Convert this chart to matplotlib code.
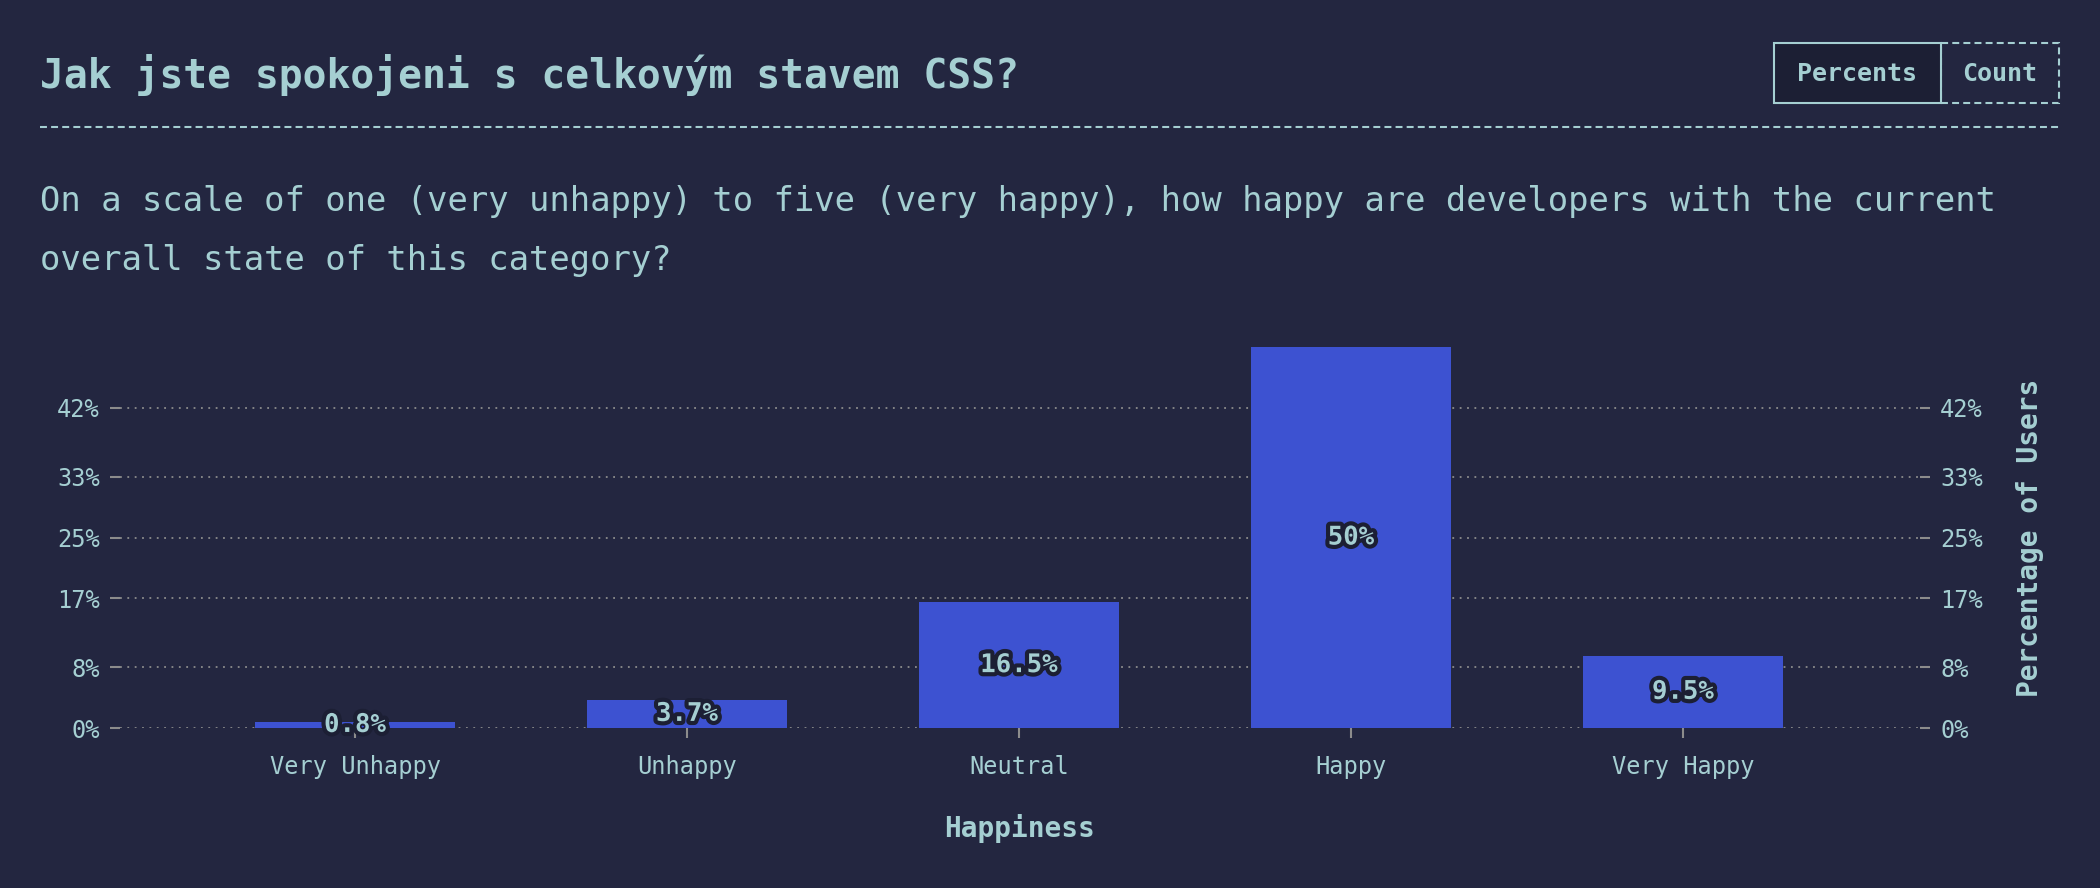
import matplotlib
matplotlib.use("Agg")
import matplotlib.pyplot as plt
import matplotlib.patheffects as pe
from matplotlib.patches import Rectangle
from matplotlib.lines import Line2D

plt.rcParams['font.family'] = ['DejaVu Sans Mono', 'DejaVu Sans']
plt.rcParams['lines.scale_dashes'] = False

## données
categories = ["Very Unhappy", "Unhappy", "Neutral", "Happy", "Very Happy"]
pourcentages = [0.8, 3.7, 16.5, 50, 9.5]
yticks = [0, 8, 17, 25, 33, 42]
ytick_labels = ["0%", "8%", "17%", "25%", "33%", "42%"]

titre = "Jak jste spokojeni s celkovým stavem CSS?"
sous_titre = ["On a scale of one (very unhappy) to five (very happy), how happy are developers with the current",
              "overall state of this category?"]

## couleurs
fond = "#232640"
fond_bouton = "#1c1f34"
texte = "#a5cfd2"
barre = "#3d52d1"
gris = "#8c8c8c"

W, H = 2100, 888
def fx(x):
    return x / W
def fy(y):
    return 1 - y / H

fig = plt.figure(figsize=(W / 100, H / 100), dpi=100, facecolor=fond)

#titre + séparateur
fig.text(fx(40), fy(88), titre, fontsize=28.5, fontweight="bold", color=texte, va="baseline", ha="left")
fig.add_artist(Line2D([fx(40), fx(2060)], [fy(127), fy(127)], color=texte, lw=1.5,
                      linestyle=(0, (5, 3))))

#sous-titre
fig.text(fx(40), fy(211), sous_titre[0], fontsize=24.4, color=texte, va="baseline", ha="left")
fig.text(fx(40), fy(270), sous_titre[1], fontsize=24.4, color=texte, va="baseline", ha="left")

#boutons Percents / Count
fig.add_artist(Rectangle((fx(1941), fy(103)), fx(2059) - fx(1941), fy(43) - fy(103),
                         transform=fig.transFigure, facecolor="none", edgecolor=texte,
                         lw=1.5, linestyle=(0, (5, 3))))
fig.add_artist(Rectangle((fx(1774), fy(103)), fx(1941) - fx(1774), fy(43) - fy(103),
                         transform=fig.transFigure, facecolor=fond_bouton, edgecolor=texte, lw=1.5))
fig.text(fx(1857), fy(81), "Percents", fontsize=18, fontweight="bold", color=texte, ha="center", va="baseline")
fig.text(fx(2000), fy(81), "Count", fontsize=18, fontweight="bold", color=texte, ha="center", va="baseline")

## graphique
ax = fig.add_axes([fx(120), fy(728), fx(1920) - fx(120), fy(347) - fy(728)])
ax.set_facecolor(fond)

x = list(range(len(categories)))
ax.bar(x, pourcentages, width=0.6, color=barre, zorder=2)

for xi, v in zip(x, pourcentages):
    ax.text(xi, v / 2, f"{v:g}%", ha="center", va="center", fontsize=18.5, fontweight="bold",
            color=texte, zorder=3,
            path_effects=[pe.withStroke(linewidth=6, foreground=fond_bouton)])

ax.set_xlim(-0.708, 4.714)
ax.set_ylim(0, 50)
ax.set_xticks(x)
ax.set_xticklabels(categories)
ax.set_yticks(yticks)
ax.set_yticklabels(ytick_labels)

for s in ax.spines.values():
    s.set_visible(False)

ax.set_axisbelow(True)
ax.yaxis.grid(True, color=gris, lw=1.3, linestyle=(0, (1.3, 4)))
ax.tick_params(axis="y", left=True, right=True, labelleft=True, labelright=True,
               length=7.5, width=1.5, color=gris, labelcolor=texte, labelsize=17, pad=7)
ax.tick_params(axis="x", length=7, width=1.5, color=gris, labelcolor=texte, labelsize=17, pad=12.5)

ax.set_xlabel("Happiness", fontsize=20, fontweight="bold", color=texte, labelpad=25)
ax.yaxis.set_label_position("right")
ax.set_ylabel("Percentage of Users", fontsize=20, fontweight="bold", color=texte, labelpad=24)

fig.savefig("out.png", dpi=100, facecolor=fond)
